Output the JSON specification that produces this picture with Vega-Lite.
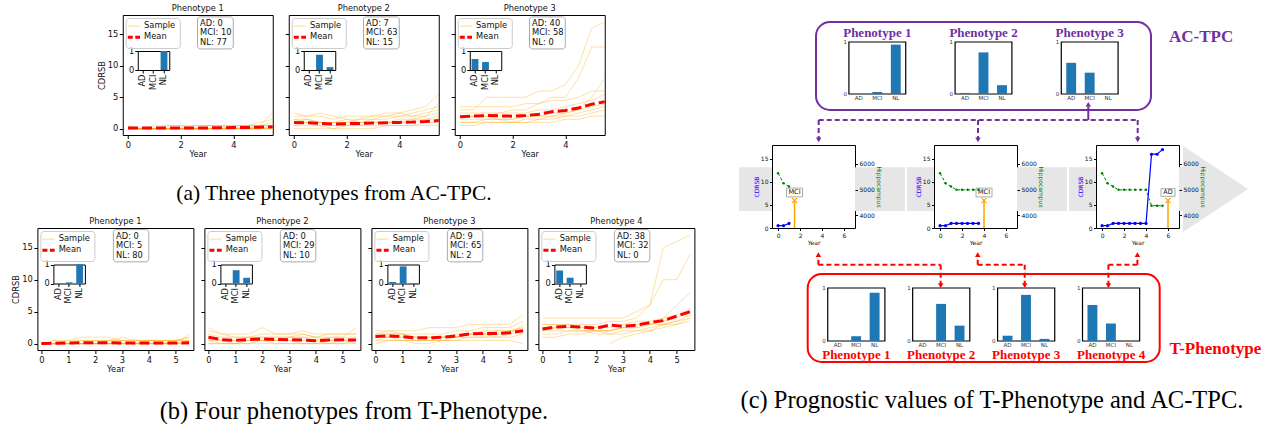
{
"$schema": "https://vega.github.io/schema/vega-lite/v6.json",
"background": "white",
"padding": {"left": 11, "top": 3, "right": 0, "bottom": 0},
"datasets": {
"a1": [
{"year":0,"s1":0,"s2":0,"s3":0,"s4":0,"s5":0,"s6":0,"s7":0,"s8":0.5,"s9":0,"mean":0.1},
{"year":0.5,"s1":0,"s2":0,"s3":0,"s4":0,"s5":0,"s6":0,"s7":0,"s8":0,"s9":0,"mean":0.1},
{"year":1,"s1":0,"s2":0,"s3":0,"s4":0,"s5":0.5,"s6":0,"s7":0,"s8":0,"s9":0,"mean":0.1},
{"year":1.5,"s1":0,"s2":0.5,"s3":0,"s4":0,"s5":0.5,"s6":0,"s7":0,"s8":0,"s9":0,"mean":0.12},
{"year":2,"s1":0,"s2":0.5,"s3":0,"s4":0,"s5":0.5,"s6":0,"s7":0,"s8":0,"s9":0,"mean":0.12},
{"year":2.5,"s1":0,"s2":0.5,"s3":0,"s4":0,"s5":0,"s6":0,"s7":0,"s8":0,"s9":0.5,"mean":0.13},
{"year":3,"s1":0,"s2":0.5,"s3":0,"s4":0,"s5":0,"s6":0.5,"s7":0,"s8":0,"s9":0.5,"mean":0.13},
{"year":3.5,"s1":0,"s2":0.5,"s3":0,"s4":0,"s5":0,"s6":0.5,"s7":0,"s8":0,"s9":0.5,"mean":0.15},
{"year":4,"s1":0,"s2":0.5,"s3":0.5,"s4":0,"s5":0,"s6":0.5,"s7":0,"s8":0,"s9":0,"mean":0.18},
{"year":4.5,"s1":0,"s2":0.5,"s3":0.5,"s4":0.5,"s5":0,"s6":0.5,"s7":0,"s8":0,"s9":0,"mean":0.2},
{"year":5,"s1":0,"s2":0.5,"s3":1,"s4":0.5,"s5":0.5,"s6":0.5,"s7":0,"s8":0,"s9":0,"mean":0.25},
{"year":5.5,"s1":0,"s2":0.5,"s3":1.5,"s4":2.5,"s5":0.5,"s6":1,"s7":0.5,"s8":0,"s9":0,"mean":0.3}
],
"a2": [
{"year":0,"s1":2.5,"s2":1.5,"s3":1,"s4":0.5,"s5":0,"s6":1,"s7":1.5,"s8":0.5,"s9":2,"mean":1.0},
{"year":0.5,"s1":2,"s2":1.5,"s3":1,"s4":0.5,"s5":0,"s6":1.5,"s7":1,"s8":1,"s9":2,"mean":0.95},
{"year":1,"s1":2,"s2":1,"s3":0.5,"s4":0.5,"s5":0,"s6":1,"s7":1,"s8":1,"s9":2.5,"mean":0.85},
{"year":1.5,"s1":1.5,"s2":1,"s3":0.5,"s4":0,"s5":0,"s6":1,"s7":0.5,"s8":1,"s9":2,"mean":0.75},
{"year":2,"s1":2,"s2":1,"s3":0.5,"s4":0.5,"s5":0,"s6":1.5,"s7":0.5,"s8":1,"s9":1.5,"mean":0.8},
{"year":2.5,"s1":2,"s2":1.5,"s3":0.5,"s4":0.5,"s5":0,"s6":1.5,"s7":1,"s8":1,"s9":1,"mean":0.85},
{"year":3,"s1":2,"s2":1.5,"s3":1,"s4":0.5,"s5":0,"s6":2,"s7":1,"s8":1,"s9":1.5,"mean":0.9},
{"year":3.5,"s1":2.5,"s2":1.5,"s3":1,"s4":0.5,"s5":0.5,"s6":2,"s7":1,"s8":1,"s9":2,"mean":0.95},
{"year":4,"s1":2.5,"s2":2,"s3":1,"s4":0.5,"s5":0.5,"s6":2.5,"s7":1.5,"s8":1,"s9":2,"mean":1.0},
{"year":4.5,"s1":2,"s2":2,"s3":1.5,"s4":0.5,"s5":0.5,"s6":3,"s7":1.5,"s8":1,"s9":2.5,"mean":1.05},
{"year":5,"s1":2.5,"s2":2,"s3":1.5,"s4":1,"s5":0.5,"s6":3.5,"s7":2,"s8":1.5,"s9":3,"mean":1.15},
{"year":5.5,"s1":3,"s2":2.5,"s3":2,"s4":1,"s5":0.5,"s6":5.5,"s7":4,"s8":1.5,"s9":3.5,"mean":1.3}
],
"a3": [
{"year":0,"s1":3,"s2":2,"s3":1,"s4":2.5,"s5":1.5,"s6":2,"s7":1,"s8":0.5,"s9":3.5,"mean":1.9},
{"year":0.5,"s1":3,"s2":2,"s3":1,"s4":2.5,"s5":1.5,"s6":2,"s7":1,"s8":0.5,"s9":3.5,"mean":2.0},
{"year":1,"s1":5,"s2":2,"s3":1.5,"s4":2.5,"s5":1.5,"s6":2,"s7":1,"s8":1,"s9":3.5,"mean":2.1},
{"year":1.5,"s1":5,"s2":2.5,"s3":1.5,"s4":2.5,"s5":1.5,"s6":1.5,"s7":1,"s8":1,"s9":3.5,"mean":2.05},
{"year":2,"s1":5,"s2":3,"s3":1.5,"s4":2.5,"s5":1,"s6":1.5,"s7":1,"s8":1,"s9":3.5,"mean":2.0},
{"year":2.5,"s1":5,"s2":3,"s3":2,"s4":2.5,"s5":1.5,"s6":2,"s7":1,"s8":1,"s9":4,"mean":2.1},
{"year":3,"s1":6,"s2":4,"s3":2,"s4":3,"s5":1.5,"s6":2,"s7":1.5,"s8":1,"s9":4,"mean":2.3},
{"year":3.5,"s1":6,"s2":5,"s3":2.5,"s4":3,"s5":2,"s6":2,"s7":1.5,"s8":1,"s9":4.5,"mean":2.7},
{"year":4,"s1":7,"s2":5,"s3":2.5,"s4":3.5,"s5":2,"s6":2.5,"s7":2,"s8":1.5,"s9":4.5,"mean":2.9},
{"year":4.5,"s1":10,"s2":8,"s3":3,"s4":4,"s5":2.5,"s6":3,"s7":2,"s8":1.5,"s9":5,"mean":3.3},
{"year":5,"s1":16,"s2":13,"s3":5,"s4":4.5,"s5":3,"s6":3.5,"s7":2.5,"s8":2,"s9":6,"mean":3.9},
{"year":5.5,"s1":17,"s2":13,"s3":8,"s4":5.5,"s5":3.5,"s6":4,"s7":3,"s8":2,"s9":6,"mean":4.3}
],
"b1": [
{"year":0,"s1":0,"s2":0,"s3":0,"s4":0,"s5":0,"s6":0,"s7":0,"s8":0,"s9":0,"mean":0},
{"year":0.5,"s1":0,"s2":0.5,"s3":0,"s4":0,"s5":0,"s6":0.5,"s7":0,"s8":0,"s9":0,"mean":0.05},
{"year":1,"s1":0,"s2":0.5,"s3":0.5,"s4":0,"s5":0,"s6":0,"s7":0,"s8":0,"s9":0,"mean":0.1},
{"year":1.5,"s1":0,"s2":0.5,"s3":1,"s4":0.5,"s5":0,"s6":0,"s7":0,"s8":0,"s9":0,"mean":0.15},
{"year":2,"s1":0,"s2":0.5,"s3":1,"s4":0.5,"s5":0,"s6":0,"s7":0,"s8":0,"s9":0,"mean":0.15},
{"year":2.5,"s1":0,"s2":0.5,"s3":1,"s4":0.5,"s5":0,"s6":0,"s7":0.5,"s8":0,"s9":0,"mean":0.12},
{"year":3,"s1":0,"s2":0.5,"s3":0.5,"s4":1,"s5":0,"s6":0,"s7":0.5,"s8":0,"s9":0,"mean":0.1},
{"year":3.5,"s1":0,"s2":0.5,"s3":0.5,"s4":0.5,"s5":0,"s6":0,"s7":0,"s8":0,"s9":0,"mean":0.1},
{"year":4,"s1":0,"s2":0.5,"s3":0.5,"s4":0.5,"s5":0,"s6":0,"s7":0,"s8":0.5,"s9":0,"mean":0.1},
{"year":4.5,"s1":0,"s2":0.5,"s3":0,"s4":0.5,"s5":0,"s6":0,"s7":0,"s8":0.5,"s9":0,"mean":0.1},
{"year":5,"s1":0,"s2":0.5,"s3":0,"s4":0.5,"s5":0,"s6":0,"s7":0,"s8":0.5,"s9":0.5,"mean":0.1},
{"year":5.5,"s1":0,"s2":0.5,"s3":1.5,"s4":1,"s5":0.5,"s6":0,"s7":0,"s8":0.5,"s9":1,"mean":0.12}
],
"b2": [
{"year":0,"s1":2.5,"s2":1.5,"s3":1,"s4":0.5,"s5":0,"s6":1,"s7":0.5,"s8":2,"s9":0,"mean":1.0},
{"year":0.5,"s1":1.5,"s2":1,"s3":0.5,"s4":0.5,"s5":0,"s6":0.5,"s7":0,"s8":1.5,"s9":0,"mean":0.6},
{"year":1,"s1":1.5,"s2":1,"s3":0.5,"s4":0,"s5":0,"s6":0.5,"s7":0,"s8":1,"s9":0,"mean":0.5},
{"year":1.5,"s1":1.5,"s2":1,"s3":1,"s4":0.5,"s5":0,"s6":0.5,"s7":0,"s8":1,"s9":0.5,"mean":0.65},
{"year":2,"s1":2.5,"s2":1.5,"s3":1,"s4":0.5,"s5":0,"s6":0.5,"s7":0.5,"s8":1,"s9":0.5,"mean":0.75},
{"year":2.5,"s1":1.5,"s2":1.5,"s3":1,"s4":0.5,"s5":0,"s6":0.5,"s7":0,"s8":1,"s9":0.5,"mean":0.65},
{"year":3,"s1":1.5,"s2":1.5,"s3":1,"s4":0.5,"s5":0,"s6":0.5,"s7":0,"s8":1,"s9":1,"mean":0.6},
{"year":3.5,"s1":1.5,"s2":2,"s3":1,"s4":0,"s5":0,"s6":0.5,"s7":0,"s8":1,"s9":1.5,"mean":0.55},
{"year":4,"s1":1,"s2":1.5,"s3":0.5,"s4":0,"s5":0,"s6":0.5,"s7":0,"s8":1,"s9":1,"mean":0.45},
{"year":4.5,"s1":1,"s2":1.5,"s3":1,"s4":0.5,"s5":0,"s6":0,"s7":0,"s8":1.5,"s9":0.5,"mean":0.55},
{"year":5,"s1":1,"s2":1.5,"s3":1,"s4":0.5,"s5":0,"s6":0.5,"s7":0,"s8":1.5,"s9":0.5,"mean":0.6},
{"year":5.5,"s1":2.5,"s2":1.5,"s3":1,"s4":0.5,"s5":0,"s6":0,"s7":0.5,"s8":1.5,"s9":1,"mean":0.55}
],
"b3": [
{"year":0,"s1":2,"s2":1.5,"s3":1,"s4":0.5,"s5":0,"s6":1.5,"s7":1,"s8":0.5,"s9":1,"mean":1.1},
{"year":0.5,"s1":2,"s2":1.5,"s3":1,"s4":0.5,"s5":0.5,"s6":2,"s7":1,"s8":1,"s9":1.5,"mean":1.2},
{"year":1,"s1":2,"s2":1.5,"s3":1,"s4":0.5,"s5":0.5,"s6":1.5,"s7":1,"s8":0.5,"s9":1.5,"mean":1.1},
{"year":1.5,"s1":2,"s2":1.5,"s3":0.5,"s4":0.5,"s5":0,"s6":1,"s7":1,"s8":0.5,"s9":1,"mean":0.9},
{"year":2,"s1":2.5,"s2":1.5,"s3":0.5,"s4":0.5,"s5":0,"s6":1,"s7":1,"s8":1,"s9":0.5,"mean":0.9},
{"year":2.5,"s1":2.5,"s2":1.5,"s3":1,"s4":0.5,"s5":0.5,"s6":1,"s7":1,"s8":1,"s9":0.5,"mean":1.0},
{"year":3,"s1":2.5,"s2":2,"s3":1,"s4":0.5,"s5":0.5,"s6":1.5,"s7":1,"s8":1,"s9":1,"mean":1.2},
{"year":3.5,"s1":3,"s2":2,"s3":1.5,"s4":1,"s5":0.5,"s6":1.5,"s7":1,"s8":1.5,"s9":1.5,"mean":1.5},
{"year":4,"s1":3,"s2":2.5,"s3":1.5,"s4":1,"s5":0.5,"s6":2,"s7":1,"s8":1.5,"s9":1.5,"mean":1.6},
{"year":4.5,"s1":3,"s2":2.5,"s3":1.5,"s4":1,"s5":0.5,"s6":2,"s7":1.5,"s8":1,"s9":2,"mean":1.6},
{"year":5,"s1":3,"s2":2.5,"s3":2,"s4":1,"s5":0.5,"s6":2,"s7":1.5,"s8":1.5,"s9":2,"mean":1.7},
{"year":5.5,"s1":4.5,"s2":3.5,"s3":2.5,"s4":1.5,"s5":0,"s6":2.5,"s7":2,"s8":3,"s9":2,"mean":2.0}
],
"b4": [
{"year":0,"s1":4,"s2":3,"s3":1,"s4":2,"s5":3,"s6":2.5,"s7":1.5,"s8":2,"s9":null,"mean":2.3},
{"year":0.5,"s1":4,"s2":3,"s3":1,"s4":2.5,"s5":3,"s6":2.5,"s7":1.5,"s8":2,"s9":null,"mean":2.6},
{"year":1,"s1":4,"s2":3,"s3":1.5,"s4":2.5,"s5":3,"s6":2.5,"s7":2,"s8":2,"s9":null,"mean":2.7},
{"year":1.5,"s1":4,"s2":3,"s3":1.5,"s4":2.5,"s5":2,"s6":2.5,"s7":2,"s8":2,"s9":null,"mean":2.6},
{"year":2,"s1":4,"s2":3,"s3":2,"s4":2.5,"s5":2,"s6":2,"s7":2,"s8":1.5,"s9":null,"mean":2.4},
{"year":2.5,"s1":4,"s2":3.5,"s3":2,"s4":2.5,"s5":2,"s6":2,"s7":1.5,"s8":1.5,"s9":0,"mean":2.9},
{"year":3,"s1":4,"s2":3.5,"s3":2.5,"s4":3,"s5":2.5,"s6":2.5,"s7":2,"s8":1.5,"s9":1,"mean":2.7},
{"year":3.5,"s1":5,"s2":4,"s3":2.5,"s4":3.5,"s5":2.5,"s6":3,"s7":2,"s8":2,"s9":1.5,"mean":2.9},
{"year":4,"s1":6,"s2":6,"s3":3,"s4":3.5,"s5":3,"s6":3,"s7":2.5,"s8":2,"s9":2,"mean":3.3},
{"year":4.5,"s1":15,"s2":10,"s3":4,"s4":4,"s5":3,"s6":3.5,"s7":3,"s8":2.5,"s9":3,"mean":3.6},
{"year":5,"s1":16,"s2":10,"s3":6,"s4":4.5,"s5":3.5,"s6":4,"s7":3,"s8":3,"s9":3.5,"mean":4.3},
{"year":5.5,"s1":17,"s2":14,"s3":8,"s4":5.5,"s5":4,"s6":5,"s7":3.5,"s8":4,"s9":4.5,"mean":5.0}
],
"distribution": [
{"panel":"a1","class":"AD","share":0},{"panel":"a1","class":"MCI","share":0},{"panel":"a1","class":"NL","share":1.0},
{"panel":"a2","class":"AD","share":0},{"panel":"a2","class":"MCI","share":0.8},{"panel":"a2","class":"NL","share":0.15},
{"panel":"a3","class":"AD","share":0.58},{"panel":"a3","class":"MCI","share":0.42},{"panel":"a3","class":"NL","share":0},
{"panel":"b1","class":"AD","share":0},{"panel":"b1","class":"MCI","share":0.06},{"panel":"b1","class":"NL","share":1.0},
{"panel":"b2","class":"AD","share":0},{"panel":"b2","class":"MCI","share":0.7},{"panel":"b2","class":"NL","share":0.3},
{"panel":"b3","class":"AD","share":0.08},{"panel":"b3","class":"MCI","share":0.9},{"panel":"b3","class":"NL","share":0.02},
{"panel":"b4","class":"AD","share":0.68},{"panel":"b4","class":"MCI","share":0.3},{"panel":"b4","class":"NL","share":0}
],
"counts": [
{"panel":"a1","label":"AD: 0\nMCI: 10\nNL: 77"},
{"panel":"a2","label":"AD: 7\nMCI: 63\nNL: 15"},
{"panel":"a3","label":"AD: 40\nMCI: 58\nNL: 0"},
{"panel":"b1","label":"AD: 0\nMCI: 5\nNL: 80"},
{"panel":"b2","label":"AD: 0\nMCI: 29\nNL: 10"},
{"panel":"b3","label":"AD: 9\nMCI: 65\nNL: 2"},
{"panel":"b4","label":"AD: 38\nMCI: 32\nNL: 0"}
],
"actpc": [
{"phenotype":"Phenotype 1","class":"AD","share":0},{"phenotype":"Phenotype 1","class":"MCI","share":0.04},{"phenotype":"Phenotype 1","class":"NL","share":0.95},
{"phenotype":"Phenotype 2","class":"AD","share":0.02},{"phenotype":"Phenotype 2","class":"MCI","share":0.8},{"phenotype":"Phenotype 2","class":"NL","share":0.17},
{"phenotype":"Phenotype 3","class":"AD","share":0.6},{"phenotype":"Phenotype 3","class":"MCI","share":0.41},{"phenotype":"Phenotype 3","class":"NL","share":0.01}
],
"tphenotype": [
{"phenotype":"Phenotype 1","class":"AD","share":0},{"phenotype":"Phenotype 1","class":"MCI","share":0.09},{"phenotype":"Phenotype 1","class":"NL","share":0.91},
{"phenotype":"Phenotype 2","class":"AD","share":0},{"phenotype":"Phenotype 2","class":"MCI","share":0.7},{"phenotype":"Phenotype 2","class":"NL","share":0.29},
{"phenotype":"Phenotype 3","class":"AD","share":0.1},{"phenotype":"Phenotype 3","class":"MCI","share":0.87},{"phenotype":"Phenotype 3","class":"NL","share":0.04},
{"phenotype":"Phenotype 4","class":"AD","share":0.68},{"phenotype":"Phenotype 4","class":"MCI","share":0.33},{"phenotype":"Phenotype 4","class":"NL","share":0}
],
"trajectories": [
{"patient":1,"year":0,"cdrsb":0.5,"hippocampus":5640},
{"patient":1,"year":0.5,"cdrsb":0.5,"hippocampus":5250},
{"patient":1,"year":1,"cdrsb":1.0,"hippocampus":5120},
{"patient":2,"year":0,"cdrsb":0.5,"hippocampus":5640},
{"patient":2,"year":0.5,"cdrsb":0.5,"hippocampus":5250},
{"patient":2,"year":1,"cdrsb":1,"hippocampus":5120},
{"patient":2,"year":1.5,"cdrsb":1,"hippocampus":4990},
{"patient":2,"year":2,"cdrsb":1,"hippocampus":4990},
{"patient":2,"year":2.5,"cdrsb":1,"hippocampus":4990},
{"patient":2,"year":3,"cdrsb":1,"hippocampus":4990},
{"patient":2,"year":3.5,"cdrsb":1,"hippocampus":4990},
{"patient":3,"year":0,"cdrsb":0.5,"hippocampus":5640},
{"patient":3,"year":0.5,"cdrsb":0.5,"hippocampus":5250},
{"patient":3,"year":1,"cdrsb":1,"hippocampus":5120},
{"patient":3,"year":1.5,"cdrsb":1,"hippocampus":4990},
{"patient":3,"year":2,"cdrsb":1,"hippocampus":4990},
{"patient":3,"year":2.5,"cdrsb":1,"hippocampus":4990},
{"patient":3,"year":3,"cdrsb":1,"hippocampus":4990},
{"patient":3,"year":3.5,"cdrsb":1,"hippocampus":4990},
{"patient":3,"year":4,"cdrsb":1,"hippocampus":4990},
{"patient":3,"year":4.5,"cdrsb":16,"hippocampus":4370},
{"patient":3,"year":5,"cdrsb":16,"hippocampus":4370},
{"patient":3,"year":5.5,"cdrsb":17,"hippocampus":4370}
],
"events": [
{"patient":1,"year":1.5,"diagnosis":"MCI"},
{"patient":2,"year":4,"diagnosis":"MCI"},
{"patient":3,"year":6,"diagnosis":"AD"}
],
"labels": [
{"model":"AC-TPC"},
{"model":"T-Phenotype"}
]
},
"hconcat": [
{
"vconcat": [
{
"hconcat": [
{"width":150,"height":120,"title":"Phenotype 1","resolve":{"scale":{"x":"independent","y":"independent"}},"layer":[
{"data":{"name":"a1"},"transform":[{"fold":["s1","s2","s3","s4","s5","s6","s7","s8","s9"],"as":["line","cdrsb"]}],"mark":{"type":"line","strokeWidth":1},"encoding":{"x":{"field":"year","type":"quantitative","scale":{"domain":[-0.2,5.5],"nice":false,"zero":false},"axis":{"values":[0,2,4],"title":"Year"}},"y":{"field":"cdrsb","type":"quantitative","scale":{"domain":[-1,18.1],"nice":false,"zero":false},"axis":{"values":[0,5,10,15],"title":"CDRSB"}},"detail":{"field":"line"},"color":{"datum":"Sample","scale":{"domain":["Sample","Mean"],"range":["rgba(255,165,0,0.35)","#ff0000"]},"legend":{"title":null,"encode":{"symbols":{"update":{"strokeDash":{"signal":"datum.value === 'Mean' ? [5,2.5] : [1,0]"},"strokeWidth":{"signal":"datum.value === 'Mean' ? 3 : 1.2"}}}}}}}},
{"data":{"name":"a1"},"mark":{"type":"line","strokeWidth":3,"strokeDash":[10,4]},"encoding":{"x":{"field":"year","type":"quantitative","scale":{"domain":[-0.2,5.5],"nice":false,"zero":false},"axis":null},"y":{"field":"mean","type":"quantitative","scale":{"domain":[-1,18.1],"nice":false,"zero":false},"axis":null},"color":{"datum":"Mean"}}},
{"data":{"name":"counts"},"transform":[{"filter":"datum.panel === 'a1'"}],"mark":{"type":"rect","fill":"white","stroke":"#aaaaaa","strokeWidth":1,"cornerRadius":3},"encoding":{"x":{"datum":2.64,"scale":{"domain":[-0.2,5.5],"nice":false,"zero":false},"axis":null},"x2":{"datum":4.0},"y":{"datum":17.8,"scale":{"domain":[-1,18.1],"nice":false,"zero":false},"axis":null},"y2":{"datum":12.7}}},
{"data":{"name":"counts"},"transform":[{"filter":"datum.panel === 'a1'"}],"mark":{"type":"text","align":"left","baseline":"top","lineBreak":"\n","lineHeight":9.4,"fontSize":8.3,"font":"DejaVu Sans","color":"#111"},"encoding":{"x":{"datum":2.74,"scale":{"domain":[-0.2,5.5],"nice":false,"zero":false},"axis":null},"y":{"datum":17.45,"scale":{"domain":[-1,18.1],"nice":false,"zero":false},"axis":null},"text":{"field":"label"}}},
{"data":{"name":"distribution"},"transform":[{"filter":"datum.panel === 'a1'"}],"mark":{"type":"bar","color":"#1f77b4"},"encoding":{"x":{"field":"class","type":"nominal","scale":{"type":"band","domain":["AD","MCI","NL"],"range":[15,46.5],"paddingInner":0.35,"paddingOuter":0.175},"axis":{"orient":"bottom","offset":-65,"title":null,"domain":true,"domainColor":"black","labelAngle":-90,"tickSize":3,"labelPadding":1}},"y":{"field":"share","type":"quantitative","scale":{"domain":[0,1],"range":[55,36],"nice":false},"axis":{"orient":"left","offset":-15,"title":null,"values":[0,1],"format":"d","domain":true,"domainColor":"black","tickSize":3,"labelPadding":1}}}},
{"data":{"name":"distribution"},"transform":[{"filter":"datum.panel === 'a1'"}],"mark":{"type":"bar","opacity":0},"encoding":{"x":{"field":"class","type":"nominal","scale":{"type":"band","domain":["AD","MCI","NL"],"range":[15,46.5],"paddingInner":0.35,"paddingOuter":0.175},"axis":{"orient":"top","offset":-36,"title":null,"domain":true,"domainColor":"black","ticks":false,"labels":false}},"y":{"field":"share","type":"quantitative","scale":{"domain":[0,1],"range":[55,36],"nice":false},"axis":{"orient":"right","offset":-103.5,"title":null,"domain":true,"domainColor":"black","ticks":false,"labels":false}}}}
]},
{"width":150,"height":120,"title":"Phenotype 2","resolve":{"scale":{"x":"independent","y":"independent"}},"layer":[
{"data":{"name":"a2"},"transform":[{"fold":["s1","s2","s3","s4","s5","s6","s7","s8","s9"],"as":["line","cdrsb"]}],"mark":{"type":"line","strokeWidth":1},"encoding":{"x":{"field":"year","type":"quantitative","scale":{"domain":[-0.2,5.5],"nice":false,"zero":false},"axis":{"values":[0,2,4],"title":"Year"}},"y":{"field":"cdrsb","type":"quantitative","scale":{"domain":[-1,18.1],"nice":false,"zero":false},"axis":{"values":[0,5,10,15],"labels":false,"title":null}},"detail":{"field":"line"},"color":{"datum":"Sample","scale":{"domain":["Sample","Mean"],"range":["rgba(255,165,0,0.35)","#ff0000"]},"legend":{"title":null,"encode":{"symbols":{"update":{"strokeDash":{"signal":"datum.value === 'Mean' ? [5,2.5] : [1,0]"},"strokeWidth":{"signal":"datum.value === 'Mean' ? 3 : 1.2"}}}}}}}},
{"data":{"name":"a2"},"mark":{"type":"line","strokeWidth":3,"strokeDash":[10,4]},"encoding":{"x":{"field":"year","type":"quantitative","scale":{"domain":[-0.2,5.5],"nice":false,"zero":false},"axis":null},"y":{"field":"mean","type":"quantitative","scale":{"domain":[-1,18.1],"nice":false,"zero":false},"axis":null},"color":{"datum":"Mean"}}},
{"data":{"name":"counts"},"transform":[{"filter":"datum.panel === 'a2'"}],"mark":{"type":"rect","fill":"white","stroke":"#aaaaaa","strokeWidth":1,"cornerRadius":3},"encoding":{"x":{"datum":2.64,"scale":{"domain":[-0.2,5.5],"nice":false,"zero":false},"axis":null},"x2":{"datum":4.0},"y":{"datum":17.8,"scale":{"domain":[-1,18.1],"nice":false,"zero":false},"axis":null},"y2":{"datum":12.7}}},
{"data":{"name":"counts"},"transform":[{"filter":"datum.panel === 'a2'"}],"mark":{"type":"text","align":"left","baseline":"top","lineBreak":"\n","lineHeight":9.4,"fontSize":8.3,"font":"DejaVu Sans","color":"#111"},"encoding":{"x":{"datum":2.74,"scale":{"domain":[-0.2,5.5],"nice":false,"zero":false},"axis":null},"y":{"datum":17.45,"scale":{"domain":[-1,18.1],"nice":false,"zero":false},"axis":null},"text":{"field":"label"}}},
{"data":{"name":"distribution"},"transform":[{"filter":"datum.panel === 'a2'"}],"mark":{"type":"bar","color":"#1f77b4"},"encoding":{"x":{"field":"class","type":"nominal","scale":{"type":"band","domain":["AD","MCI","NL"],"range":[15,46.5],"paddingInner":0.35,"paddingOuter":0.175},"axis":{"orient":"bottom","offset":-65,"title":null,"domain":true,"domainColor":"black","labelAngle":-90,"tickSize":3,"labelPadding":1}},"y":{"field":"share","type":"quantitative","scale":{"domain":[0,1],"range":[55,36],"nice":false},"axis":{"orient":"left","offset":-15,"title":null,"values":[0,1],"format":"d","domain":true,"domainColor":"black","tickSize":3,"labelPadding":1}}}},
{"data":{"name":"distribution"},"transform":[{"filter":"datum.panel === 'a2'"}],"mark":{"type":"bar","opacity":0},"encoding":{"x":{"field":"class","type":"nominal","scale":{"type":"band","domain":["AD","MCI","NL"],"range":[15,46.5],"paddingInner":0.35,"paddingOuter":0.175},"axis":{"orient":"top","offset":-36,"title":null,"domain":true,"domainColor":"black","ticks":false,"labels":false}},"y":{"field":"share","type":"quantitative","scale":{"domain":[0,1],"range":[55,36],"nice":false},"axis":{"orient":"right","offset":-103.5,"title":null,"domain":true,"domainColor":"black","ticks":false,"labels":false}}}}
]},
{"width":150,"height":120,"title":"Phenotype 3","resolve":{"scale":{"x":"independent","y":"independent"}},"layer":[
{"data":{"name":"a3"},"transform":[{"fold":["s1","s2","s3","s4","s5","s6","s7","s8","s9"],"as":["line","cdrsb"]}],"mark":{"type":"line","strokeWidth":1},"encoding":{"x":{"field":"year","type":"quantitative","scale":{"domain":[-0.2,5.5],"nice":false,"zero":false},"axis":{"values":[0,2,4],"title":"Year"}},"y":{"field":"cdrsb","type":"quantitative","scale":{"domain":[-1,18.1],"nice":false,"zero":false},"axis":{"values":[0,5,10,15],"labels":false,"title":null}},"detail":{"field":"line"},"color":{"datum":"Sample","scale":{"domain":["Sample","Mean"],"range":["rgba(255,165,0,0.35)","#ff0000"]},"legend":{"title":null,"encode":{"symbols":{"update":{"strokeDash":{"signal":"datum.value === 'Mean' ? [5,2.5] : [1,0]"},"strokeWidth":{"signal":"datum.value === 'Mean' ? 3 : 1.2"}}}}}}}},
{"data":{"name":"a3"},"mark":{"type":"line","strokeWidth":3,"strokeDash":[10,4]},"encoding":{"x":{"field":"year","type":"quantitative","scale":{"domain":[-0.2,5.5],"nice":false,"zero":false},"axis":null},"y":{"field":"mean","type":"quantitative","scale":{"domain":[-1,18.1],"nice":false,"zero":false},"axis":null},"color":{"datum":"Mean"}}},
{"data":{"name":"counts"},"transform":[{"filter":"datum.panel === 'a3'"}],"mark":{"type":"rect","fill":"white","stroke":"#aaaaaa","strokeWidth":1,"cornerRadius":3},"encoding":{"x":{"datum":2.64,"scale":{"domain":[-0.2,5.5],"nice":false,"zero":false},"axis":null},"x2":{"datum":4.0},"y":{"datum":17.8,"scale":{"domain":[-1,18.1],"nice":false,"zero":false},"axis":null},"y2":{"datum":12.7}}},
{"data":{"name":"counts"},"transform":[{"filter":"datum.panel === 'a3'"}],"mark":{"type":"text","align":"left","baseline":"top","lineBreak":"\n","lineHeight":9.4,"fontSize":8.3,"font":"DejaVu Sans","color":"#111"},"encoding":{"x":{"datum":2.74,"scale":{"domain":[-0.2,5.5],"nice":false,"zero":false},"axis":null},"y":{"datum":17.45,"scale":{"domain":[-1,18.1],"nice":false,"zero":false},"axis":null},"text":{"field":"label"}}},
{"data":{"name":"distribution"},"transform":[{"filter":"datum.panel === 'a3'"}],"mark":{"type":"bar","color":"#1f77b4"},"encoding":{"x":{"field":"class","type":"nominal","scale":{"type":"band","domain":["AD","MCI","NL"],"range":[15,46.5],"paddingInner":0.35,"paddingOuter":0.175},"axis":{"orient":"bottom","offset":-65,"title":null,"domain":true,"domainColor":"black","labelAngle":-90,"tickSize":3,"labelPadding":1}},"y":{"field":"share","type":"quantitative","scale":{"domain":[0,1],"range":[55,36],"nice":false},"axis":{"orient":"left","offset":-15,"title":null,"values":[0,1],"format":"d","domain":true,"domainColor":"black","tickSize":3,"labelPadding":1}}}},
{"data":{"name":"distribution"},"transform":[{"filter":"datum.panel === 'a3'"}],"mark":{"type":"bar","opacity":0},"encoding":{"x":{"field":"class","type":"nominal","scale":{"type":"band","domain":["AD","MCI","NL"],"range":[15,46.5],"paddingInner":0.35,"paddingOuter":0.175},"axis":{"orient":"top","offset":-36,"title":null,"domain":true,"domainColor":"black","ticks":false,"labels":false}},"y":{"field":"share","type":"quantitative","scale":{"domain":[0,1],"range":[55,36],"nice":false},"axis":{"orient":"right","offset":-103.5,"title":null,"domain":true,"domainColor":"black","ticks":false,"labels":false}}}}
]}
],
"spacing": 4,
"resolve": {"scale": {"color": "independent"}},
"title": {"text": "(a) Three phenotypes from AC-TPC.", "orient": "bottom", "anchor": "middle", "font": "Liberation Serif", "fontSize": 21.5, "fontWeight": "normal", "color": "black", "offset": 25, "dx": -20, "baseline": "top"}
},
{
"hconcat": [
{"width":156,"height":122,"title":"Phenotype 1","resolve":{"scale":{"x":"independent","y":"independent"}},"layer":[
{"data":{"name":"b1"},"transform":[{"fold":["s1","s2","s3","s4","s5","s6","s7","s8","s9"],"as":["line","cdrsb"]}],"mark":{"type":"line","strokeWidth":1},"encoding":{"x":{"field":"year","type":"quantitative","scale":{"domain":[-0.15,5.66],"nice":false,"zero":false},"axis":{"values":[0,1,2,3,4,5],"title":"Year"}},"y":{"field":"cdrsb","type":"quantitative","scale":{"domain":[-1,18.1],"nice":false,"zero":false},"axis":{"values":[0,5,10,15],"title":"CDRSB"}},"detail":{"field":"line"},"color":{"datum":"Sample","scale":{"domain":["Sample","Mean"],"range":["rgba(255,165,0,0.35)","#ff0000"]},"legend":{"title":null,"encode":{"symbols":{"update":{"strokeDash":{"signal":"datum.value === 'Mean' ? [5,2.5] : [1,0]"},"strokeWidth":{"signal":"datum.value === 'Mean' ? 3 : 1.2"}}}}}}}},
{"data":{"name":"b1"},"mark":{"type":"line","strokeWidth":3,"strokeDash":[10,4]},"encoding":{"x":{"field":"year","type":"quantitative","scale":{"domain":[-0.15,5.66],"nice":false,"zero":false},"axis":null},"y":{"field":"mean","type":"quantitative","scale":{"domain":[-1,18.1],"nice":false,"zero":false},"axis":null},"color":{"datum":"Mean"}}},
{"data":{"name":"counts"},"transform":[{"filter":"datum.panel === 'b1'"}],"mark":{"type":"rect","fill":"white","stroke":"#aaaaaa","strokeWidth":1,"cornerRadius":3},"encoding":{"x":{"datum":2.68,"scale":{"domain":[-0.15,5.66],"nice":false,"zero":false},"axis":null},"x2":{"datum":4.0},"y":{"datum":17.85,"scale":{"domain":[-1,18.1],"nice":false,"zero":false},"axis":null},"y2":{"datum":12.8}}},
{"data":{"name":"counts"},"transform":[{"filter":"datum.panel === 'b1'"}],"mark":{"type":"text","align":"left","baseline":"top","lineBreak":"\n","lineHeight":9.4,"fontSize":8.3,"font":"DejaVu Sans","color":"#111"},"encoding":{"x":{"datum":2.78,"scale":{"domain":[-0.15,5.66],"nice":false,"zero":false},"axis":null},"y":{"datum":17.5,"scale":{"domain":[-1,18.1],"nice":false,"zero":false},"axis":null},"text":{"field":"label"}}},
{"data":{"name":"distribution"},"transform":[{"filter":"datum.panel === 'b1'"}],"mark":{"type":"bar","color":"#1f77b4"},"encoding":{"x":{"field":"class","type":"nominal","scale":{"type":"band","domain":["AD","MCI","NL"],"range":[16,47.5],"paddingInner":0.35,"paddingOuter":0.175},"axis":{"orient":"bottom","offset":-66.5,"title":null,"domain":true,"domainColor":"black","labelAngle":-90,"tickSize":3,"labelPadding":1}},"y":{"field":"share","type":"quantitative","scale":{"domain":[0,1],"range":[55.5,36.5],"nice":false},"axis":{"orient":"left","offset":-16,"title":null,"values":[0,1],"format":"d","domain":true,"domainColor":"black","tickSize":3,"labelPadding":1}}}},
{"data":{"name":"distribution"},"transform":[{"filter":"datum.panel === 'b1'"}],"mark":{"type":"bar","opacity":0},"encoding":{"x":{"field":"class","type":"nominal","scale":{"type":"band","domain":["AD","MCI","NL"],"range":[16,47.5],"paddingInner":0.35,"paddingOuter":0.175},"axis":{"orient":"top","offset":-36.5,"title":null,"domain":true,"domainColor":"black","ticks":false,"labels":false}},"y":{"field":"share","type":"quantitative","scale":{"domain":[0,1],"range":[55.5,36.5],"nice":false},"axis":{"orient":"right","offset":-108.5,"title":null,"domain":true,"domainColor":"black","ticks":false,"labels":false}}}}
]},
{"width":156,"height":122,"title":"Phenotype 2","resolve":{"scale":{"x":"independent","y":"independent"}},"layer":[
{"data":{"name":"b2"},"transform":[{"fold":["s1","s2","s3","s4","s5","s6","s7","s8","s9"],"as":["line","cdrsb"]}],"mark":{"type":"line","strokeWidth":1},"encoding":{"x":{"field":"year","type":"quantitative","scale":{"domain":[-0.15,5.66],"nice":false,"zero":false},"axis":{"values":[0,1,2,3,4,5],"title":"Year"}},"y":{"field":"cdrsb","type":"quantitative","scale":{"domain":[-1,18.1],"nice":false,"zero":false},"axis":{"values":[0,5,10,15],"labels":false,"title":null}},"detail":{"field":"line"},"color":{"datum":"Sample","scale":{"domain":["Sample","Mean"],"range":["rgba(255,165,0,0.35)","#ff0000"]},"legend":{"title":null,"encode":{"symbols":{"update":{"strokeDash":{"signal":"datum.value === 'Mean' ? [5,2.5] : [1,0]"},"strokeWidth":{"signal":"datum.value === 'Mean' ? 3 : 1.2"}}}}}}}},
{"data":{"name":"b2"},"mark":{"type":"line","strokeWidth":3,"strokeDash":[10,4]},"encoding":{"x":{"field":"year","type":"quantitative","scale":{"domain":[-0.15,5.66],"nice":false,"zero":false},"axis":null},"y":{"field":"mean","type":"quantitative","scale":{"domain":[-1,18.1],"nice":false,"zero":false},"axis":null},"color":{"datum":"Mean"}}},
{"data":{"name":"counts"},"transform":[{"filter":"datum.panel === 'b2'"}],"mark":{"type":"rect","fill":"white","stroke":"#aaaaaa","strokeWidth":1,"cornerRadius":3},"encoding":{"x":{"datum":2.68,"scale":{"domain":[-0.15,5.66],"nice":false,"zero":false},"axis":null},"x2":{"datum":4.0},"y":{"datum":17.85,"scale":{"domain":[-1,18.1],"nice":false,"zero":false},"axis":null},"y2":{"datum":12.8}}},
{"data":{"name":"counts"},"transform":[{"filter":"datum.panel === 'b2'"}],"mark":{"type":"text","align":"left","baseline":"top","lineBreak":"\n","lineHeight":9.4,"fontSize":8.3,"font":"DejaVu Sans","color":"#111"},"encoding":{"x":{"datum":2.78,"scale":{"domain":[-0.15,5.66],"nice":false,"zero":false},"axis":null},"y":{"datum":17.5,"scale":{"domain":[-1,18.1],"nice":false,"zero":false},"axis":null},"text":{"field":"label"}}},
{"data":{"name":"distribution"},"transform":[{"filter":"datum.panel === 'b2'"}],"mark":{"type":"bar","color":"#1f77b4"},"encoding":{"x":{"field":"class","type":"nominal","scale":{"type":"band","domain":["AD","MCI","NL"],"range":[16,47.5],"paddingInner":0.35,"paddingOuter":0.175},"axis":{"orient":"bottom","offset":-66.5,"title":null,"domain":true,"domainColor":"black","labelAngle":-90,"tickSize":3,"labelPadding":1}},"y":{"field":"share","type":"quantitative","scale":{"domain":[0,1],"range":[55.5,36.5],"nice":false},"axis":{"orient":"left","offset":-16,"title":null,"values":[0,1],"format":"d","domain":true,"domainColor":"black","tickSize":3,"labelPadding":1}}}},
{"data":{"name":"distribution"},"transform":[{"filter":"datum.panel === 'b2'"}],"mark":{"type":"bar","opacity":0},"encoding":{"x":{"field":"class","type":"nominal","scale":{"type":"band","domain":["AD","MCI","NL"],"range":[16,47.5],"paddingInner":0.35,"paddingOuter":0.175},"axis":{"orient":"top","offset":-36.5,"title":null,"domain":true,"domainColor":"black","ticks":false,"labels":false}},"y":{"field":"share","type":"quantitative","scale":{"domain":[0,1],"range":[55.5,36.5],"nice":false},"axis":{"orient":"right","offset":-108.5,"title":null,"domain":true,"domainColor":"black","ticks":false,"labels":false}}}}
]},
{"width":156,"height":122,"title":"Phenotype 3","resolve":{"scale":{"x":"independent","y":"independent"}},"layer":[
{"data":{"name":"b3"},"transform":[{"fold":["s1","s2","s3","s4","s5","s6","s7","s8","s9"],"as":["line","cdrsb"]}],"mark":{"type":"line","strokeWidth":1},"encoding":{"x":{"field":"year","type":"quantitative","scale":{"domain":[-0.15,5.66],"nice":false,"zero":false},"axis":{"values":[0,1,2,3,4,5],"title":"Year"}},"y":{"field":"cdrsb","type":"quantitative","scale":{"domain":[-1,18.1],"nice":false,"zero":false},"axis":{"values":[0,5,10,15],"labels":false,"title":null}},"detail":{"field":"line"},"color":{"datum":"Sample","scale":{"domain":["Sample","Mean"],"range":["rgba(255,165,0,0.35)","#ff0000"]},"legend":{"title":null,"encode":{"symbols":{"update":{"strokeDash":{"signal":"datum.value === 'Mean' ? [5,2.5] : [1,0]"},"strokeWidth":{"signal":"datum.value === 'Mean' ? 3 : 1.2"}}}}}}}},
{"data":{"name":"b3"},"mark":{"type":"line","strokeWidth":3,"strokeDash":[10,4]},"encoding":{"x":{"field":"year","type":"quantitative","scale":{"domain":[-0.15,5.66],"nice":false,"zero":false},"axis":null},"y":{"field":"mean","type":"quantitative","scale":{"domain":[-1,18.1],"nice":false,"zero":false},"axis":null},"color":{"datum":"Mean"}}},
{"data":{"name":"counts"},"transform":[{"filter":"datum.panel === 'b3'"}],"mark":{"type":"rect","fill":"white","stroke":"#aaaaaa","strokeWidth":1,"cornerRadius":3},"encoding":{"x":{"datum":2.68,"scale":{"domain":[-0.15,5.66],"nice":false,"zero":false},"axis":null},"x2":{"datum":4.0},"y":{"datum":17.85,"scale":{"domain":[-1,18.1],"nice":false,"zero":false},"axis":null},"y2":{"datum":12.8}}},
{"data":{"name":"counts"},"transform":[{"filter":"datum.panel === 'b3'"}],"mark":{"type":"text","align":"left","baseline":"top","lineBreak":"\n","lineHeight":9.4,"fontSize":8.3,"font":"DejaVu Sans","color":"#111"},"encoding":{"x":{"datum":2.78,"scale":{"domain":[-0.15,5.66],"nice":false,"zero":false},"axis":null},"y":{"datum":17.5,"scale":{"domain":[-1,18.1],"nice":false,"zero":false},"axis":null},"text":{"field":"label"}}},
{"data":{"name":"distribution"},"transform":[{"filter":"datum.panel === 'b3'"}],"mark":{"type":"bar","color":"#1f77b4"},"encoding":{"x":{"field":"class","type":"nominal","scale":{"type":"band","domain":["AD","MCI","NL"],"range":[16,47.5],"paddingInner":0.35,"paddingOuter":0.175},"axis":{"orient":"bottom","offset":-66.5,"title":null,"domain":true,"domainColor":"black","labelAngle":-90,"tickSize":3,"labelPadding":1}},"y":{"field":"share","type":"quantitative","scale":{"domain":[0,1],"range":[55.5,36.5],"nice":false},"axis":{"orient":"left","offset":-16,"title":null,"values":[0,1],"format":"d","domain":true,"domainColor":"black","tickSize":3,"labelPadding":1}}}},
{"data":{"name":"distribution"},"transform":[{"filter":"datum.panel === 'b3'"}],"mark":{"type":"bar","opacity":0},"encoding":{"x":{"field":"class","type":"nominal","scale":{"type":"band","domain":["AD","MCI","NL"],"range":[16,47.5],"paddingInner":0.35,"paddingOuter":0.175},"axis":{"orient":"top","offset":-36.5,"title":null,"domain":true,"domainColor":"black","ticks":false,"labels":false}},"y":{"field":"share","type":"quantitative","scale":{"domain":[0,1],"range":[55.5,36.5],"nice":false},"axis":{"orient":"right","offset":-108.5,"title":null,"domain":true,"domainColor":"black","ticks":false,"labels":false}}}}
]},
{"width":156,"height":122,"title":"Phenotype 4","resolve":{"scale":{"x":"independent","y":"independent"}},"layer":[
{"data":{"name":"b4"},"transform":[{"fold":["s1","s2","s3","s4","s5","s6","s7","s8","s9"],"as":["line","cdrsb"]}],"mark":{"type":"line","strokeWidth":1},"encoding":{"x":{"field":"year","type":"quantitative","scale":{"domain":[-0.15,5.66],"nice":false,"zero":false},"axis":{"values":[0,1,2,3,4,5],"title":"Year"}},"y":{"field":"cdrsb","type":"quantitative","scale":{"domain":[-1,18.1],"nice":false,"zero":false},"axis":{"values":[0,5,10,15],"labels":false,"title":null}},"detail":{"field":"line"},"color":{"datum":"Sample","scale":{"domain":["Sample","Mean"],"range":["rgba(255,165,0,0.35)","#ff0000"]},"legend":{"title":null,"encode":{"symbols":{"update":{"strokeDash":{"signal":"datum.value === 'Mean' ? [5,2.5] : [1,0]"},"strokeWidth":{"signal":"datum.value === 'Mean' ? 3 : 1.2"}}}}}}}},
{"data":{"name":"b4"},"mark":{"type":"line","strokeWidth":3,"strokeDash":[10,4]},"encoding":{"x":{"field":"year","type":"quantitative","scale":{"domain":[-0.15,5.66],"nice":false,"zero":false},"axis":null},"y":{"field":"mean","type":"quantitative","scale":{"domain":[-1,18.1],"nice":false,"zero":false},"axis":null},"color":{"datum":"Mean"}}},
{"data":{"name":"counts"},"transform":[{"filter":"datum.panel === 'b4'"}],"mark":{"type":"rect","fill":"white","stroke":"#aaaaaa","strokeWidth":1,"cornerRadius":3},"encoding":{"x":{"datum":2.68,"scale":{"domain":[-0.15,5.66],"nice":false,"zero":false},"axis":null},"x2":{"datum":4.0},"y":{"datum":17.85,"scale":{"domain":[-1,18.1],"nice":false,"zero":false},"axis":null},"y2":{"datum":12.8}}},
{"data":{"name":"counts"},"transform":[{"filter":"datum.panel === 'b4'"}],"mark":{"type":"text","align":"left","baseline":"top","lineBreak":"\n","lineHeight":9.4,"fontSize":8.3,"font":"DejaVu Sans","color":"#111"},"encoding":{"x":{"datum":2.78,"scale":{"domain":[-0.15,5.66],"nice":false,"zero":false},"axis":null},"y":{"datum":17.5,"scale":{"domain":[-1,18.1],"nice":false,"zero":false},"axis":null},"text":{"field":"label"}}},
{"data":{"name":"distribution"},"transform":[{"filter":"datum.panel === 'b4'"}],"mark":{"type":"bar","color":"#1f77b4"},"encoding":{"x":{"field":"class","type":"nominal","scale":{"type":"band","domain":["AD","MCI","NL"],"range":[16,47.5],"paddingInner":0.35,"paddingOuter":0.175},"axis":{"orient":"bottom","offset":-66.5,"title":null,"domain":true,"domainColor":"black","labelAngle":-90,"tickSize":3,"labelPadding":1}},"y":{"field":"share","type":"quantitative","scale":{"domain":[0,1],"range":[55.5,36.5],"nice":false},"axis":{"orient":"left","offset":-16,"title":null,"values":[0,1],"format":"d","domain":true,"domainColor":"black","tickSize":3,"labelPadding":1}}}},
{"data":{"name":"distribution"},"transform":[{"filter":"datum.panel === 'b4'"}],"mark":{"type":"bar","opacity":0},"encoding":{"x":{"field":"class","type":"nominal","scale":{"type":"band","domain":["AD","MCI","NL"],"range":[16,47.5],"paddingInner":0.35,"paddingOuter":0.175},"axis":{"orient":"top","offset":-36.5,"title":null,"domain":true,"domainColor":"black","ticks":false,"labels":false}},"y":{"field":"share","type":"quantitative","scale":{"domain":[0,1],"range":[55.5,36.5],"nice":false},"axis":{"orient":"right","offset":-108.5,"title":null,"domain":true,"domainColor":"black","ticks":false,"labels":false}}}}
]}
],
"spacing": 3,
"resolve": {"scale": {"color": "independent"}},
"title": {"text": "(b) Four phenotypes from T-Phenotype.", "orient": "bottom", "anchor": "middle", "font": "Liberation Serif", "fontSize": 24.5, "fontWeight": "normal", "color": "black", "offset": 27, "baseline": "top"}
}
],
"spacing": 11,
"center": true,
"resolve": {"scale": {"color": "independent"}}
},
{
"vconcat": [
{"width":1,"height":6,"data":{"values":[{}]},"mark":{"type":"point","size":0,"opacity":0},"view":{"stroke":null}},
{"hconcat": [
{"width":25,"height":1,"data":{"values":[{}]},"mark":{"type":"point","size":0,"opacity":0},"view":{"stroke":null}},
{"width":335,"height":88,"view":{"stroke":"#7030a0","strokeWidth":2,"cornerRadius":14},
"resolve":{"scale":{"x":"independent"}},
"layer":[
{"data":{"name":"actpc"},"layer":[
{"transform":[{"aggregate":[{"op":"count","as":"n"}],"groupby":["phenotype"]}],"mark":{"type":"rect","fillOpacity":0,"stroke":"black","strokeWidth":1.2},"encoding":{"x":{"field":"phenotype","type":"nominal","scale":{"type":"band","domain":["Phenotype 1","Phenotype 2","Phenotype 3"],"paddingInner":0.465,"paddingOuter":0.31},"axis":null},"y":{"datum":0,"type":"quantitative","scale":{"domain":[-0.308,1.385],"nice":false,"zero":false},"axis":null},"y2":{"datum":1}}},
{"mark":{"type":"bar","color":"#1f77b4"},"encoding":{"x":{"field":"phenotype","type":"nominal"},"xOffset":{"field":"class","type":"nominal","scale":{"domain":["AD","MCI","NL"],"paddingInner":0.465,"paddingOuter":0.27}},"y":{"field":"share","type":"quantitative"},"y2":{"datum":0}}},
{"mark":{"type":"text","baseline":"top","fontSize":5.5,"font":"DejaVu Sans","color":"#333","dy":2},"encoding":{"x":{"field":"phenotype","type":"nominal"},"xOffset":{"field":"class","type":"nominal"},"y":{"datum":0},"text":{"field":"class"}}},
{"transform":[{"aggregate":[{"op":"count","as":"n"}],"groupby":["phenotype"]}],"mark":{"type":"text","align":"right","baseline":"middle","dx":-2,"fontSize":5.5,"font":"DejaVu Sans","color":"#333"},"encoding":{"x":{"field":"phenotype","type":"nominal","bandPosition":0},"y":{"datum":1},"text":{"value":"1"}}},
{"transform":[{"aggregate":[{"op":"count","as":"n"}],"groupby":["phenotype"]}],"mark":{"type":"text","align":"right","baseline":"middle","dx":-2,"fontSize":5.5,"font":"DejaVu Sans","color":"#333"},"encoding":{"x":{"field":"phenotype","type":"nominal","bandPosition":0},"y":{"datum":0},"text":{"value":"0"}}},
{"transform":[{"aggregate":[{"op":"count","as":"n"}],"groupby":["phenotype"]}],"mark":{"type":"text","baseline":"alphabetic","dy":-5,"font":"Liberation Serif","fontSize":13,"fontWeight":"bold","color":"#7030a0"},"encoding":{"x":{"field":"phenotype","type":"nominal"},"y":{"datum":1},"text":{"field":"phenotype"}}}
]},
{"data":{"values":[{}]},"layer":[
{"mark":{"type":"rule","color":"#7030a0","strokeWidth":2,"strokeDash":[5,3]},"encoding":{"x":{"datum":0.008,"type":"quantitative","scale":{"domain":[0,1],"nice":false,"zero":false},"axis":null},"x2":{"datum":0.9603},"y":{"datum":-0.5},"y2":{"datum":-0.5}}},
{"mark":{"type":"rule","color":"#7030a0","strokeWidth":2,"strokeDash":[5,3]},"encoding":{"x":{"datum":0.008},"y":{"datum":-0.5},"y2":{"datum":-0.85}}},
{"mark":{"type":"rule","color":"#7030a0","strokeWidth":2,"strokeDash":[5,3]},"encoding":{"x":{"datum":0.4836},"y":{"datum":-0.5},"y2":{"datum":-0.85}}},
{"mark":{"type":"rule","color":"#7030a0","strokeWidth":2,"strokeDash":[5,3]},"encoding":{"x":{"datum":0.9603},"y":{"datum":-0.5},"y2":{"datum":-0.85}}},
{"mark":{"type":"point","shape":"triangle-down","size":30,"filled":true,"color":"#7030a0","opacity":1},"encoding":{"x":{"datum":0.008},"y":{"datum":-0.885}}},
{"mark":{"type":"point","shape":"triangle-down","size":30,"filled":true,"color":"#7030a0","opacity":1},"encoding":{"x":{"datum":0.4836},"y":{"datum":-0.885}}},
{"mark":{"type":"point","shape":"triangle-down","size":30,"filled":true,"color":"#7030a0","opacity":1},"encoding":{"x":{"datum":0.9603},"y":{"datum":-0.885}}},
{"mark":{"type":"rule","color":"#7030a0","strokeWidth":2},"encoding":{"x":{"datum":0.8128},"y":{"datum":-0.5},"y2":{"datum":-0.25}}},
{"mark":{"type":"point","shape":"triangle-up","size":30,"filled":true,"color":"#7030a0","opacity":1},"encoding":{"x":{"datum":0.8128},"y":{"datum":-0.2}}}
]}
]},
{"width":1,"height":1,"data":{"name":"labels"},"transform":[{"filter":"datum.model === 'AC-TPC'"}],"mark":{"type":"point","size":0,"opacity":0},"view":{"stroke":null},
"title":{"text":"AC-TPC","orient":"bottom","anchor":"start","align":"left","baseline":"top","offset":6,"font":"Liberation Serif","fontSize":17,"fontWeight":"bold","color":"#7030a0"}}
], "spacing": 17},
{"hconcat": [
{"width":83,"height":83,"resolve":{"scale":{"x":"independent","y":"independent"}},"layer":[
{"data":{"values":[{}]},"layer":[
{"mark":{"type":"rect","color":"#e6e6e6"},"encoding":{"x":{"datum":-3.55,"scale":{"domain":[-0.55,7],"nice":false,"zero":false},"axis":null},"x2":{"datum":-0.55},"y":{"datum":3.7,"scale":{"domain":[0,18],"nice":false,"zero":false},"axis":null},"y2":{"datum":13.2}}},
{"mark":{"type":"rect","color":"#e6e6e6"},"encoding":{"x":{"datum":7.0,"axis":null},"x2":{"datum":11.55},"y":{"datum":3.7,"axis":null},"y2":{"datum":13.2}}}
]},
{"data":{"name":"trajectories"},"transform":[{"filter":"datum.patient === 1"}],"mark":{"type":"line","color":"#0000ff","strokeWidth":1.2,"point":{"filled":true,"size":10,"color":"#0000ff"}},"encoding":{"x":{"field":"year","type":"quantitative","scale":{"domain":[-0.55,7],"nice":false,"zero":false},"axis":{"values":[0,2,4,6],"title":"Year","labelFontSize":6,"titleFontSize":6,"tickSize":2.5,"zindex":1}},"y":{"field":"cdrsb","type":"quantitative","scale":{"domain":[0,18],"nice":false,"zero":false},"axis":{"values":[0,5,10,15],"title":"CDRSB","titleColor":"#0000ff","labelFontSize":6,"titleFontSize":6,"tickSize":2.5,"zindex":1}}}},
{"data":{"name":"events"},"transform":[{"filter":"datum.patient === 1"}],"layer":[
{"mark":{"type":"rule","color":"#ffa500","strokeWidth":1.5},"encoding":{"x":{"field":"year","type":"quantitative","scale":{"domain":[-0.55,7],"nice":false,"zero":false},"axis":null},"y":{"datum":0,"scale":{"domain":[0,18],"nice":false,"zero":false},"axis":null},"y2":{"datum":6}}},
{"mark":{"type":"point","shape":"M-1,-1L1,1M-1,1L1,-1","size":25,"stroke":"#ffa500","strokeWidth":1.2,"filled":false,"opacity":1},"encoding":{"x":{"field":"year","type":"quantitative","axis":null},"y":{"datum":6,"axis":null}}},
{"mark":{"type":"point","shape":"M-1,-0.55H1V0.55H-1Z","size":256,"fill":"white","stroke":"#aaaaaa","strokeWidth":1,"filled":true,"opacity":1},"encoding":{"x":{"field":"year","type":"quantitative","axis":null},"y":{"datum":7.7,"axis":null}}},
{"mark":{"type":"text","fontSize":6.5,"font":"DejaVu Sans","color":"#111"},"encoding":{"x":{"field":"year","type":"quantitative","axis":null},"y":{"datum":7.7,"axis":null},"text":{"field":"diagnosis"}}}
]},
{"data":{"name":"trajectories"},"transform":[{"filter":"datum.patient === 1"}],"mark":{"type":"line","color":"#008000","strokeWidth":1,"strokeDash":[3,2],"point":{"filled":true,"size":6,"color":"#008000"}},"encoding":{"x":{"field":"year","type":"quantitative","scale":{"domain":[-0.55,7],"nice":false,"zero":false},"axis":null},"y":{"field":"hippocampus","type":"quantitative","scale":{"domain":[3500,6740],"nice":false,"zero":false},"axis":{"orient":"right","values":[4000,5000,6000],"format":"d","title":"Hippocampus","titleColor":"#008000","labelFontSize":6,"titleFontSize":6,"tickSize":2.5,"zindex":1}}}}
]},
{"width":83,"height":83,"resolve":{"scale":{"x":"independent","y":"independent"}},"layer":[
{"data":{"values":[{}]},"layer":[
{"mark":{"type":"rect","color":"#e6e6e6"},"encoding":{"x":{"datum":-3.0,"scale":{"domain":[-0.55,7],"nice":false,"zero":false},"axis":null},"x2":{"datum":-0.55},"y":{"datum":3.7,"scale":{"domain":[0,18],"nice":false,"zero":false},"axis":null},"y2":{"datum":13.2}}},
{"mark":{"type":"rect","color":"#e6e6e6"},"encoding":{"x":{"datum":7.0,"axis":null},"x2":{"datum":11.55},"y":{"datum":3.7,"axis":null},"y2":{"datum":13.2}}}
]},
{"data":{"name":"trajectories"},"transform":[{"filter":"datum.patient === 2"}],"mark":{"type":"line","color":"#0000ff","strokeWidth":1.2,"point":{"filled":true,"size":10,"color":"#0000ff"}},"encoding":{"x":{"field":"year","type":"quantitative","scale":{"domain":[-0.55,7],"nice":false,"zero":false},"axis":{"values":[0,2,4,6],"title":"Year","labelFontSize":6,"titleFontSize":6,"tickSize":2.5,"zindex":1}},"y":{"field":"cdrsb","type":"quantitative","scale":{"domain":[0,18],"nice":false,"zero":false},"axis":{"values":[0,5,10,15],"title":"CDRSB","titleColor":"#0000ff","labelFontSize":6,"titleFontSize":6,"tickSize":2.5,"zindex":1}}}},
{"data":{"name":"events"},"transform":[{"filter":"datum.patient === 2"}],"layer":[
{"mark":{"type":"rule","color":"#ffa500","strokeWidth":1.5},"encoding":{"x":{"field":"year","type":"quantitative","scale":{"domain":[-0.55,7],"nice":false,"zero":false},"axis":null},"y":{"datum":0,"scale":{"domain":[0,18],"nice":false,"zero":false},"axis":null},"y2":{"datum":6}}},
{"mark":{"type":"point","shape":"M-1,-1L1,1M-1,1L1,-1","size":25,"stroke":"#ffa500","strokeWidth":1.2,"filled":false,"opacity":1},"encoding":{"x":{"field":"year","type":"quantitative","axis":null},"y":{"datum":6,"axis":null}}},
{"mark":{"type":"point","shape":"M-1,-0.55H1V0.55H-1Z","size":256,"fill":"white","stroke":"#aaaaaa","strokeWidth":1,"filled":true,"opacity":1},"encoding":{"x":{"field":"year","type":"quantitative","axis":null},"y":{"datum":7.7,"axis":null}}},
{"mark":{"type":"text","fontSize":6.5,"font":"DejaVu Sans","color":"#111"},"encoding":{"x":{"field":"year","type":"quantitative","axis":null},"y":{"datum":7.7,"axis":null},"text":{"field":"diagnosis"}}}
]},
{"data":{"name":"trajectories"},"transform":[{"filter":"datum.patient === 2"}],"mark":{"type":"line","color":"#008000","strokeWidth":1,"strokeDash":[3,2],"point":{"filled":true,"size":6,"color":"#008000"}},"encoding":{"x":{"field":"year","type":"quantitative","scale":{"domain":[-0.55,7],"nice":false,"zero":false},"axis":null},"y":{"field":"hippocampus","type":"quantitative","scale":{"domain":[3500,6740],"nice":false,"zero":false},"axis":{"orient":"right","values":[4000,5000,6000],"format":"d","title":"Hippocampus","titleColor":"#008000","labelFontSize":6,"titleFontSize":6,"tickSize":2.5,"zindex":1}}}}
]},
{"width":83,"height":83,"resolve":{"scale":{"x":"independent","y":"independent"}},"layer":[
{"data":{"values":[{}]},"layer":[
{"mark":{"type":"rect","color":"#e6e6e6"},"encoding":{"x":{"datum":-3.0,"scale":{"domain":[-0.55,7],"nice":false,"zero":false},"axis":null},"x2":{"datum":-0.55},"y":{"datum":3.7,"scale":{"domain":[0,18],"nice":false,"zero":false},"axis":null},"y2":{"datum":13.2}}},
{"mark":{"type":"rect","color":"#e6e6e6"},"encoding":{"x":{"datum":7.0,"axis":null},"x2":{"datum":7.5},"y":{"datum":3.7,"axis":null},"y2":{"datum":13.2}}},
{"mark":{"type":"point","shape":"M-0.756,-1L0.756,0L-0.756,1Z","size":7396,"filled":true,"color":"#e6e6e6","opacity":1},"encoding":{"x":{"datum":10.32,"axis":null},"y":{"datum":8.46,"axis":null}}}
]},
{"data":{"name":"trajectories"},"transform":[{"filter":"datum.patient === 3"}],"mark":{"type":"line","color":"#0000ff","strokeWidth":1.2,"point":{"filled":true,"size":10,"color":"#0000ff"}},"encoding":{"x":{"field":"year","type":"quantitative","scale":{"domain":[-0.55,7],"nice":false,"zero":false},"axis":{"values":[0,2,4,6],"title":"Year","labelFontSize":6,"titleFontSize":6,"tickSize":2.5,"zindex":1}},"y":{"field":"cdrsb","type":"quantitative","scale":{"domain":[0,18],"nice":false,"zero":false},"axis":{"values":[0,5,10,15],"title":"CDRSB","titleColor":"#0000ff","labelFontSize":6,"titleFontSize":6,"tickSize":2.5,"zindex":1}}}},
{"data":{"name":"events"},"transform":[{"filter":"datum.patient === 3"}],"layer":[
{"mark":{"type":"rule","color":"#ffa500","strokeWidth":1.5},"encoding":{"x":{"field":"year","type":"quantitative","scale":{"domain":[-0.55,7],"nice":false,"zero":false},"axis":null},"y":{"datum":0,"scale":{"domain":[0,18],"nice":false,"zero":false},"axis":null},"y2":{"datum":6}}},
{"mark":{"type":"point","shape":"M-1,-1L1,1M-1,1L1,-1","size":25,"stroke":"#ffa500","strokeWidth":1.2,"filled":false,"opacity":1},"encoding":{"x":{"field":"year","type":"quantitative","axis":null},"y":{"datum":6,"axis":null}}},
{"mark":{"type":"point","shape":"M-1,-0.55H1V0.55H-1Z","size":196,"fill":"white","stroke":"#aaaaaa","strokeWidth":1,"filled":true,"opacity":1},"encoding":{"x":{"field":"year","type":"quantitative","axis":null},"y":{"datum":7.7,"axis":null}}},
{"mark":{"type":"text","fontSize":6.5,"font":"DejaVu Sans","color":"#111"},"encoding":{"x":{"field":"year","type":"quantitative","axis":null},"y":{"datum":7.7,"axis":null},"text":{"field":"diagnosis"}}}
]},
{"data":{"name":"trajectories"},"transform":[{"filter":"datum.patient === 3"}],"mark":{"type":"line","color":"#008000","strokeWidth":1,"strokeDash":[3,2],"point":{"filled":true,"size":6,"color":"#008000"}},"encoding":{"x":{"field":"year","type":"quantitative","scale":{"domain":[-0.55,7],"nice":false,"zero":false},"axis":null},"y":{"field":"hippocampus","type":"quantitative","scale":{"domain":[3500,6740],"nice":false,"zero":false},"axis":{"orient":"right","values":[4000,5000,6000],"format":"d","title":"Hippocampus","titleColor":"#008000","labelFontSize":6,"titleFontSize":6,"tickSize":2.5,"zindex":1}}}}
]}
], "spacing": 0},
{"width":1,"height":4.5,"data":{"values":[{}]},"mark":{"type":"point","size":0,"opacity":0},"view":{"stroke":null}},
{"hconcat": [
{"width":25.3,"height":1,"data":{"values":[{}]},"mark":{"type":"point","size":0,"opacity":0},"view":{"stroke":null}},
{"width":352,"height":88,"view":{"stroke":"#ff0000","strokeWidth":2,"cornerRadius":14},
"resolve":{"scale":{"x":"independent"}},
"layer":[
{"data":{"name":"tphenotype"},"layer":[
{"transform":[{"aggregate":[{"op":"count","as":"n"}],"groupby":["phenotype"]}],"mark":{"type":"rect","fillOpacity":0,"stroke":"black","strokeWidth":1.2},"encoding":{"x":{"field":"phenotype","type":"nominal","scale":{"type":"band","domain":["Phenotype 1","Phenotype 2","Phenotype 3","Phenotype 4"],"paddingInner":0.327,"paddingOuter":0.236},"axis":null},"y":{"datum":0,"type":"quantitative","scale":{"domain":[-0.396,1.264],"nice":false,"zero":false},"axis":null},"y2":{"datum":1}}},
{"mark":{"type":"bar","color":"#1f77b4"},"encoding":{"x":{"field":"phenotype","type":"nominal"},"xOffset":{"field":"class","type":"nominal","scale":{"domain":["AD","MCI","NL"],"paddingInner":0.465,"paddingOuter":0.27}},"y":{"field":"share","type":"quantitative"},"y2":{"datum":0}}},
{"mark":{"type":"text","baseline":"top","fontSize":5.5,"font":"DejaVu Sans","color":"#333","dy":2},"encoding":{"x":{"field":"phenotype","type":"nominal"},"xOffset":{"field":"class","type":"nominal"},"y":{"datum":0},"text":{"field":"class"}}},
{"transform":[{"aggregate":[{"op":"count","as":"n"}],"groupby":["phenotype"]}],"mark":{"type":"text","align":"right","baseline":"middle","dx":-2,"fontSize":5.5,"font":"DejaVu Sans","color":"#333"},"encoding":{"x":{"field":"phenotype","type":"nominal","bandPosition":0},"y":{"datum":1},"text":{"value":"1"}}},
{"transform":[{"aggregate":[{"op":"count","as":"n"}],"groupby":["phenotype"]}],"mark":{"type":"text","align":"right","baseline":"middle","dx":-2,"fontSize":5.5,"font":"DejaVu Sans","color":"#333"},"encoding":{"x":{"field":"phenotype","type":"nominal","bandPosition":0},"y":{"datum":0},"text":{"value":"0"}}},
{"transform":[{"aggregate":[{"op":"count","as":"n"}],"groupby":["phenotype"]}],"mark":{"type":"text","baseline":"alphabetic","dy":17.5,"font":"Liberation Serif","fontSize":13,"fontWeight":"bold","color":"#ff0000"},"encoding":{"x":{"field":"phenotype","type":"nominal"},"y":{"datum":0},"text":{"field":"phenotype"}}}
]},
{"data":{"values":[{}]},"layer":[
{"mark":{"type":"rule","color":"#ff0000","strokeWidth":2,"strokeDash":[5,3]},"encoding":{"x":{"datum":0.0304,"type":"quantitative","scale":{"domain":[0,1],"nice":false,"zero":false},"axis":null},"y":{"datum":1.439},"y2":{"datum":1.6}}},
{"mark":{"type":"rule","color":"#ff0000","strokeWidth":2,"strokeDash":[5,3]},"encoding":{"x":{"datum":0.483},"y":{"datum":1.439},"y2":{"datum":1.6}}},
{"mark":{"type":"rule","color":"#ff0000","strokeWidth":2,"strokeDash":[5,3]},"encoding":{"x":{"datum":0.9366},"y":{"datum":1.439},"y2":{"datum":1.6}}},
{"mark":{"type":"point","shape":"triangle-up","size":30,"filled":true,"color":"#ff0000","opacity":1},"encoding":{"x":{"datum":0.0304},"y":{"datum":1.63}}},
{"mark":{"type":"point","shape":"triangle-up","size":30,"filled":true,"color":"#ff0000","opacity":1},"encoding":{"x":{"datum":0.483},"y":{"datum":1.63}}},
{"mark":{"type":"point","shape":"triangle-up","size":30,"filled":true,"color":"#ff0000","opacity":1},"encoding":{"x":{"datum":0.9366},"y":{"datum":1.63}}},
{"mark":{"type":"rule","color":"#ff0000","strokeWidth":2,"strokeDash":[5,3]},"encoding":{"x":{"datum":0.0304},"x2":{"datum":0.3778},"y":{"datum":1.439},"y2":{"datum":1.439}}},
{"mark":{"type":"rule","color":"#ff0000","strokeWidth":2,"strokeDash":[5,3]},"encoding":{"x":{"datum":0.483},"x2":{"datum":0.6165},"y":{"datum":1.439},"y2":{"datum":1.439}}},
{"mark":{"type":"rule","color":"#ff0000","strokeWidth":2,"strokeDash":[5,3]},"encoding":{"x":{"datum":0.8543},"x2":{"datum":0.9366},"y":{"datum":1.439},"y2":{"datum":1.439}}},
{"mark":{"type":"rule","color":"#ff0000","strokeWidth":2,"strokeDash":[5,3]},"encoding":{"x":{"datum":0.3778},"y":{"datum":1.439},"y2":{"datum":1.08}}},
{"mark":{"type":"rule","color":"#ff0000","strokeWidth":2,"strokeDash":[5,3]},"encoding":{"x":{"datum":0.6165},"y":{"datum":1.439},"y2":{"datum":1.08}}},
{"mark":{"type":"rule","color":"#ff0000","strokeWidth":2,"strokeDash":[5,3]},"encoding":{"x":{"datum":0.8543},"y":{"datum":1.439},"y2":{"datum":1.08}}},
{"mark":{"type":"point","shape":"triangle-down","size":30,"filled":true,"color":"#ff0000","opacity":1},"encoding":{"x":{"datum":0.3778},"y":{"datum":1.045}}},
{"mark":{"type":"point","shape":"triangle-down","size":30,"filled":true,"color":"#ff0000","opacity":1},"encoding":{"x":{"datum":0.6165},"y":{"datum":1.045}}},
{"mark":{"type":"point","shape":"triangle-down","size":30,"filled":true,"color":"#ff0000","opacity":1},"encoding":{"x":{"datum":0.8543},"y":{"datum":1.045}}}
]}
]},
{"width":1,"height":60,"data":{"name":"labels"},"transform":[{"filter":"datum.model === 'T-Phenotype'"}],"mark":{"type":"point","size":0,"opacity":0},"view":{"stroke":null},
"title":{"text":"T-Phenotype","orient":"bottom","anchor":"start","align":"left","baseline":"top","offset":7,"font":"Liberation Serif","fontSize":17,"fontWeight":"bold","color":"#ff0000"}}
], "spacing": 8.7}
],
"spacing": 0,
"title": {"text": "(c) Prognostic values of T-Phenotype and AC-TPC.", "orient": "bottom", "anchor": "middle", "font": "Liberation Serif", "fontSize": 24.5, "fontWeight": "normal", "color": "black", "offset": 26, "dx": -8, "baseline": "top"}
}
],
"spacing": 41,
"config": {
"view": {"stroke": "black", "strokeWidth": 1},
"font": "DejaVu Sans",
"axis": {"grid": false, "domain": false, "labelOverlap": false, "tickColor": "black", "tickSize": 3.5, "labelFont": "DejaVu Sans", "labelFontSize": 8.3, "labelColor": "#111", "titleFont": "DejaVu Sans", "titleFontSize": 8.3, "titleFontWeight": "normal", "titleColor": "#111", "labelPadding": 1.5, "titlePadding": 1},
"title": {"font": "DejaVu Sans", "fontSize": 8.3, "fontWeight": "normal", "color": "#111", "offset": 3},
"legend": {"orient": "top-left", "offset": 3, "padding": 4, "strokeColor": "#cccccc", "fillColor": "rgba(255,255,255,0.8)", "cornerRadius": 3, "symbolType": "stroke", "symbolSize": 150, "labelFontSize": 8.3, "labelFont": "DejaVu Sans", "labelColor": "#111", "rowPadding": 1, "labelOffset": 6}
}
}
